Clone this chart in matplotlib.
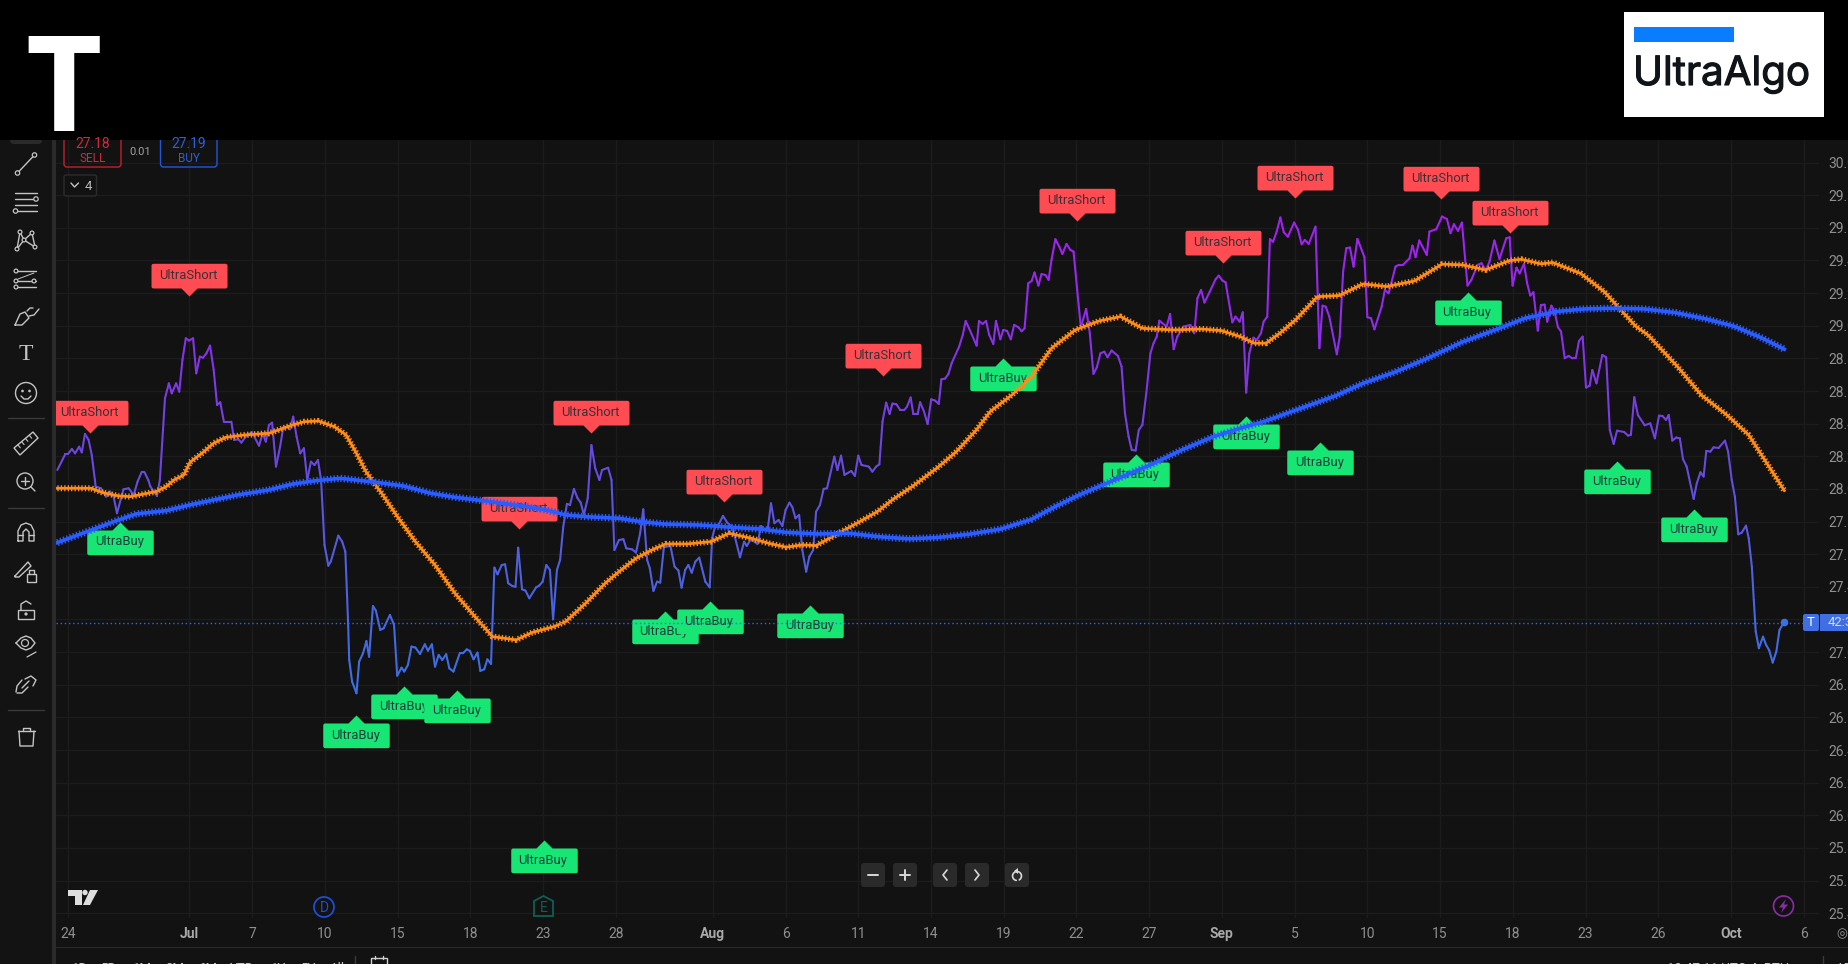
import numpy as np
import matplotlib
matplotlib.use('Agg')
import matplotlib.pyplot as plt
import matplotlib.patheffects as pe
from matplotlib.collections import LineCollection
from matplotlib.colors import LinearSegmentedColormap, Normalize
from matplotlib.patches import Circle, FancyBboxPatch, Polygon, Rectangle
from matplotlib.path import Path

plt.rcParams['font.family'] = ['Roboto', 'DejaVu Sans']

# time axis, x is counted in trading sessions from 24 Jun
tick_pos = [0, 5, 7.6, 10.6, 13.6, 16.6, 19.6, 22.6, 26.6, 29.6, 32.6, 35.6, 38.6, 41.6, 44.6,
            47.6, 50.6, 53.6, 56.6, 59.6, 62.6, 65.6, 68.6, 71.6]
tick_labels = ['24', 'Jul', '7', '10', '15', '18', '23', '28', 'Aug', '6', '11', '14', '19', '22', '27',
               'Sep', '5', '10', '15', '18', '23', '26', 'Oct', '6']
month_labels = ['Jul', 'Aug', 'Sep', 'Oct']
price_ticks = [25.4, 25.6, 25.8, 26.0, 26.2, 26.4, 26.6, 26.8, 27.0, 27.2, 27.4, 27.6, 27.8,
               28.0, 28.2, 28.4, 28.6, 28.8, 29.0, 29.2, 29.4, 29.6, 29.8, 30.0]
last_price = 27.18

price_x = [
    -0.44, -0.11, 0.00, 0.16, 0.29, 0.46, 0.57, 0.70, 0.85, 0.98, 1.11, 1.14, 1.36, 1.57, 1.73, 1.88, 2.02, 2.29,
    2.50, 2.71, 2.87, 3.04, 3.15, 3.31, 3.40, 3.67, 3.79, 4.00, 4.16, 4.28, 4.46, 4.59, 4.72, 4.86, 4.99, 5.16,
    5.29, 5.44, 5.57, 5.71, 5.86, 6.01, 6.15, 6.28, 6.43, 6.74, 6.85, 7.03, 7.15, 7.39, 7.59, 7.88, 8.03, 8.16,
    8.29, 8.42, 8.58, 8.75, 8.88, 9.03, 9.16, 9.29, 9.43, 9.58, 9.73, 9.87, 10.02, 10.17, 10.31, 10.44, 10.58,
    10.74, 10.84, 11.15, 11.31, 11.44, 11.55, 11.60, 11.72, 11.90, 12.01, 12.17, 12.31, 12.42, 12.58, 12.70,
    12.88, 13.02, 13.28, 13.45, 13.58, 13.76, 13.87, 14.02, 14.17, 14.33, 14.52, 14.72, 14.85, 15.01, 15.14,
    15.29, 15.44, 15.60, 15.73, 15.90, 16.16, 16.29, 16.45, 16.58, 16.73, 16.89, 17.01, 17.17, 17.30, 17.45,
    17.59, 17.72, 17.89, 18.03, 18.16, 18.33, 18.46, 18.57, 18.73, 18.87, 19.03, 19.31, 19.44, 19.58, 19.73,
    19.88, 20.01, 20.17, 20.30, 20.43, 20.58, 20.71, 20.87, 21.02, 21.15, 21.28, 21.44, 21.59, 21.75, 21.92,
    22.03, 22.28, 22.42, 22.54, 22.73, 22.91, 23.03, 23.27, 23.43, 23.60, 23.73, 23.89, 24.00, 24.15, 24.30,
    24.43, 24.58, 24.85, 25.02, 25.18, 25.31, 25.46, 25.59, 25.73, 25.88, 26.04, 26.29, 26.47, 26.57, 26.71,
    26.83, 27.02, 27.19, 27.41, 27.72, 27.89, 28.00, 28.17, 28.44, 28.59, 28.74, 28.87, 29.00, 29.14, 29.31,
    29.47, 29.60, 29.76, 29.88, 30.01, 30.16, 30.29, 30.45, 30.58, 30.74, 30.86, 31.02, 31.17, 31.31, 31.61,
    31.74, 31.89, 32.03, 32.31, 32.46, 32.60, 32.73, 33.03, 33.18, 33.34, 33.47, 33.60, 33.75, 33.89, 34.01,
    34.17, 34.33, 34.50, 34.61, 34.76, 34.87, 35.05, 35.15, 35.31, 35.46, 35.61, 35.77, 35.92, 36.03, 36.18,
    36.32, 36.45, 36.76, 36.91, 37.03, 37.17, 37.48, 37.58, 37.73, 37.87, 38.00, 38.17, 38.28, 38.46, 38.58,
    38.74, 38.89, 39.03, 39.20, 39.34, 39.46, 39.61, 39.75, 39.87, 40.03, 40.16, 40.32, 40.45, 40.57, 40.73,
    40.89, 41.02, 41.19, 41.35, 41.48, 41.63, 41.78, 42.00, 42.15, 42.30, 42.44, 42.59, 42.75, 42.88, 43.05,
    43.31, 43.46, 43.60, 43.75, 43.88, 44.04, 44.17, 44.32, 44.48, 44.65, 44.78, 44.91, 45.02, 45.32, 45.46,
    45.61, 45.76, 46.02, 46.30, 46.46, 46.59, 46.74, 46.88, 47.10, 47.34, 47.47, 47.62, 47.75, 48.03, 48.16,
    48.33, 48.46, 48.60, 48.73, 48.90, 49.04, 49.21, 49.32, 49.47, 49.58, 49.71, 49.86, 50.01, 50.15, 50.32,
    50.58, 50.74, 50.89, 51.02, 51.18, 51.46, 51.62, 51.75, 51.88, 52.03, 52.34, 52.46, 52.60, 52.73, 52.88,
    53.03, 53.19, 53.48, 53.60, 53.75, 53.89, 54.19, 54.32, 54.48, 54.76, 54.89, 55.07, 55.34, 55.46, 55.59,
    55.74, 56.05, 56.16, 56.44, 56.68, 56.88, 57.03, 57.17, 57.34, 57.50, 57.73, 57.89, 58.15, 58.31, 58.48,
    58.64, 58.84, 59.05, 59.33, 59.47, 59.59, 59.75, 59.88, 60.06, 60.19, 60.32, 60.45, 60.63, 60.76, 60.91,
    61.02, 61.19, 61.32, 61.46, 61.59, 61.74, 61.90, 62.05, 62.20, 62.33, 62.48, 62.62, 62.77, 62.88, 63.05,
    63.29, 63.45, 63.60, 63.76, 63.90, 64.19, 64.35, 64.47, 64.61, 64.76, 65.04, 65.27, 65.46, 65.63, 65.77,
    65.92, 66.03, 66.18, 66.34, 66.49, 66.62, 66.77, 67.06, 67.19, 67.34, 67.47, 67.58, 67.75, 67.88, 68.09,
    68.35, 68.48, 68.63, 68.76, 68.90, 69.04, 69.22, 69.33, 69.46, 69.54, 69.62, 69.75, 69.92, 70.05, 70.18,
    70.32, 70.47, 70.60, 70.80]
price_y = [
    28.116, 28.214, 28.214, 28.245, 28.218, 28.259, 28.224, 28.337, 28.300, 28.208, 28.055, 28.014, 28.004,
    27.953, 27.984, 27.953, 27.851, 27.998, 28.004, 27.963, 28.045, 28.104, 28.104, 28.055, 28.014, 27.957,
    28.055, 28.555, 28.647, 28.586, 28.647, 28.596, 28.790, 28.923, 28.909, 28.923, 28.708, 28.811, 28.804,
    28.831, 28.878, 28.729, 28.514, 28.531, 28.412, 28.412, 28.300, 28.304, 28.284, 28.331, 28.347, 28.265,
    28.341, 28.290, 28.392, 28.406, 28.137, 28.259, 28.378, 28.382, 28.365, 28.443, 28.320, 28.218, 28.249,
    28.055, 28.167, 28.147, 28.177, 28.055, 27.657, 27.530, 27.555, 27.714, 27.677, 27.616, 27.197, 26.952,
    26.819, 26.748, 26.942, 26.993, 27.068, 26.972, 27.283, 27.254, 27.136, 27.146, 27.228, 27.167, 26.856,
    26.905, 26.881, 26.921, 27.034, 27.028, 26.989, 27.048, 27.009, 27.048, 26.911, 26.983, 26.952, 26.987,
    26.901, 26.881, 26.993, 26.993, 27.017, 27.007, 26.956, 26.997, 26.885, 26.895, 26.956, 26.928, 27.518,
    27.477, 27.534, 27.538, 27.422, 27.405, 27.401, 27.640, 27.385, 27.377, 27.330, 27.397, 27.408, 27.432,
    27.534, 27.504, 27.201, 27.504, 27.565, 27.769, 27.908, 27.902, 28.000, 27.943, 27.916, 27.841, 27.943,
    28.269, 28.126, 28.055, 28.116, 28.130, 28.055, 27.626, 27.687, 27.692, 27.636, 27.630, 27.610, 27.728,
    27.875, 27.565, 27.514, 27.375, 27.432, 27.426, 27.643, 27.651, 27.524, 27.500, 27.395, 27.504, 27.534,
    27.487, 27.555, 27.579, 27.432, 27.397, 27.698, 27.779, 27.779, 27.835, 27.794, 27.765, 27.581, 27.677,
    27.651, 27.692, 27.663, 27.773, 27.753, 27.759, 27.912, 27.790, 27.810, 27.773, 27.871, 27.916, 27.888,
    27.820, 27.841, 27.626, 27.493, 27.585, 27.626, 27.861, 27.902, 28.000, 28.004, 28.198, 28.116, 28.204,
    28.086, 28.110, 28.080, 28.204, 28.147, 28.137, 28.106, 28.137, 28.151, 28.413, 28.529, 28.460, 28.523,
    28.519, 28.484, 28.484, 28.504, 28.560, 28.460, 28.460, 28.531, 28.474, 28.398, 28.549, 28.541, 28.521,
    28.672, 28.676, 28.705, 28.770, 28.872, 28.944, 29.029, 28.984, 28.878, 29.029, 29.011, 29.029, 28.944,
    28.888, 29.029, 28.917, 28.974, 28.968, 28.917, 29.005, 28.991, 28.966, 28.984, 29.260, 29.274, 29.326,
    29.246, 29.317, 29.311, 29.281, 29.403, 29.530, 29.485, 29.440, 29.501, 29.464, 29.454, 29.219, 28.991,
    29.103, 28.954, 28.705, 28.745, 28.831, 28.841, 28.807, 28.848, 28.815, 28.750, 28.464, 28.321, 28.239,
    28.235, 28.361, 28.392, 28.586, 28.831, 28.893, 28.933, 29.031, 28.995, 29.072, 28.856, 28.933, 28.995,
    29.005, 28.954, 29.168, 29.219, 29.142, 29.209, 29.285, 29.307, 29.277, 29.266, 29.021, 29.056, 29.025,
    29.082, 28.590, 28.831, 28.927, 28.913, 28.954, 29.025, 29.056, 29.530, 29.515, 29.577, 29.663, 29.573,
    29.546, 29.632, 29.587, 29.499, 29.526, 29.501, 29.607, 28.862, 29.123, 29.117, 29.056, 28.825, 28.933,
    29.332, 29.475, 29.479, 29.362, 29.532, 29.420, 29.052, 29.046, 28.978, 29.117, 29.219, 29.199, 29.362,
    29.373, 29.373, 29.413, 29.491, 29.420, 29.522, 29.434, 29.577, 29.591, 29.669, 29.654, 29.567, 29.622,
    29.581, 29.632, 29.246, 29.281, 29.373, 29.383, 29.338, 29.393, 29.522, 29.409, 29.536, 29.542, 29.246,
    29.356, 29.321, 29.379, 29.260, 29.185, 29.205, 28.970, 29.127, 29.129, 29.025, 29.123, 29.091, 28.991,
    28.964, 28.801, 28.815, 28.801, 28.803, 28.907, 28.933, 28.621, 28.633, 28.729, 28.647, 28.821, 28.807,
    28.361, 28.276, 28.357, 28.349, 28.327, 28.331, 28.562, 28.453, 28.390, 28.402, 28.310, 28.449, 28.447,
    28.423, 28.453, 28.296, 28.315, 28.310, 28.182, 28.137, 27.939, 28.035, 28.102, 28.076, 28.233, 28.229,
    28.255, 28.251, 28.296, 28.229, 28.055, 27.953, 27.722, 27.732, 27.775, 27.698, 27.524, 27.320, 27.126,
    27.024, 27.095, 27.044, 27.010, 26.936, 27.003, 27.136, 27.187]

orange_x = [
    -0.44, 0.95, 1.44, 2.09, 2.58, 3.64, 4.05, 4.37, 4.78, 5.03, 5.52, 6.01, 6.50, 7.31, 8.29, 9.27, 9.76, 10.33,
    10.98, 11.47, 11.88, 12.29, 12.62, 12.94, 13.59, 14.33, 15.14, 15.96, 16.78, 17.51, 18.49, 19.14, 20.04,
    20.53, 21.35, 22.16, 22.73, 23.43, 24.09, 24.66, 25.55, 26.53, 27.27, 28.17, 28.90, 29.63, 30.29, 30.86,
    31.59, 32.41, 33.39, 34.04, 34.86, 35.84, 36.65, 37.47, 38.04, 38.94, 39.75, 40.57, 41.55, 42.53, 43.42,
    44.32, 45.63, 46.77, 47.58, 48.36, 48.93, 49.42, 49.99, 50.64, 51.54, 52.44, 53.42, 54.40, 55.54, 56.68,
    57.50, 58.48, 59.46, 59.95, 60.76, 61.25, 62.39, 63.37, 64.68, 65.17, 66.39, 67.37, 68.43, 69.33, 70.80]
orange_y = [
    28.004, 28.004, 27.977, 27.957, 27.953, 27.984, 28.014, 28.055, 28.085, 28.163, 28.218, 28.280, 28.316,
    28.331, 28.341, 28.392, 28.412, 28.416, 28.382, 28.331, 28.224, 28.106, 28.038, 27.973, 27.830, 27.677,
    27.534, 27.361, 27.218, 27.095, 27.075, 27.120, 27.156, 27.187, 27.299, 27.422, 27.493, 27.575, 27.626,
    27.663, 27.663, 27.677, 27.728, 27.698, 27.667, 27.643, 27.657, 27.653, 27.712, 27.779, 27.861, 27.937,
    28.018, 28.127, 28.229, 28.361, 28.474, 28.576, 28.688, 28.862, 28.974, 29.029, 29.056, 28.984, 28.974,
    28.980, 28.970, 28.933, 28.893, 28.893, 28.954, 29.036, 29.178, 29.185, 29.256, 29.240, 29.274, 29.377,
    29.373, 29.342, 29.399, 29.407, 29.379, 29.387, 29.321, 29.209, 28.995, 28.944, 28.750, 28.576, 28.453,
    28.331, 27.990]

blue_x = [
    -0.44, 0.78, 2.09, 2.82, 4.05, 5.03, 6.99, 8.29, 9.27, 10.25, 11.23, 12.70, 13.84, 14.98, 15.96, 17.10, 18.73,
    19.71, 20.53, 21.35, 22.73, 23.60, 24.58, 26.04, 27.35, 28.49, 29.63, 30.94, 32.25, 33.39, 34.69, 35.84,
    37.14, 38.45, 39.75, 40.73, 41.71, 42.85, 44.65, 45.95, 47.26, 48.36, 49.34, 50.48, 52.28, 53.42, 54.72,
    56.03, 57.50, 58.97, 60.11, 61.41, 62.56, 63.70, 65.01, 66.31, 67.62, 68.76, 69.90, 70.80]
blue_y = [
    27.671, 27.738, 27.810, 27.847, 27.867, 27.902, 27.963, 27.994, 28.030, 28.051, 28.065, 28.041, 28.018,
    27.973, 27.949, 27.928, 27.896, 27.871, 27.841, 27.830, 27.820, 27.800, 27.785, 27.779, 27.765, 27.755,
    27.734, 27.724, 27.728, 27.708, 27.694, 27.702, 27.722, 27.753, 27.814, 27.892, 27.963, 28.035, 28.147,
    28.239, 28.321, 28.372, 28.413, 28.474, 28.570, 28.647, 28.715, 28.797, 28.899, 28.980, 29.046, 29.087,
    29.103, 29.107, 29.103, 29.080, 29.040, 28.995, 28.923, 28.856]

short_x = [0.90, 5.01, 18.59, 21.59, 27.06, 33.62, 41.63, 47.63, 50.61, 56.65, 59.49]
short_y = [28.345, 29.184, 27.757, 28.345, 27.922, 28.694, 29.644, 29.387, 29.785, 29.779, 29.571]
buy_x = [2.16, 11.90, 13.87, 16.04, 19.62, 24.61, 26.47, 30.60, 38.59, 44.04, 48.60, 51.64, 57.74, 63.90, 67.08]
buy_y = [27.800, 26.615, 26.791, 26.766, 25.849, 27.253, 27.314, 27.289, 28.801, 28.212, 28.447, 28.286,
         29.205, 28.169, 27.875]

BG = '#121212'
GRID = '#1c1c1c'
W, H = 1848, 964
DPI = 100


def label_marker(width, height, tip, up):
    # box with a small pointer, tip of the pointer sits on the origin
    s = 1 if up else -1
    hw = width / 2
    r = 2.0
    y0, y1 = s * tip, s * (tip + height)
    verts = [(0, 0), (tip, y0), (hw - r, y0), (hw, y0), (hw, y0 + s * r), (hw, y1 - s * r), (hw, y1),
             (hw - r, y1), (-hw + r, y1), (-hw, y1), (-hw, y1 - s * r), (-hw, y0 + s * r), (-hw, y0),
             (-hw + r, y0), (-tip, y0), (0, 0)]
    codes = [Path.MOVETO, Path.LINETO, Path.LINETO, Path.CURVE3, Path.CURVE3, Path.LINETO, Path.CURVE3,
             Path.CURVE3, Path.LINETO, Path.CURVE3, Path.CURVE3, Path.LINETO, Path.CURVE3, Path.CURVE3,
             Path.LINETO, Path.CLOSEPOLY]
    path = Path(verts, codes)
    return path, 2 * np.abs(path.vertices).max() * 72 / DPI


fig = plt.figure(figsize=(W / DPI, H / DPI), dpi=DPI, facecolor=BG)

# chart pane sits between x 56..1819 and y 140..918
ax = fig.add_axes([56 / W, 1 - 918 / H, (1819 - 56) / W, (918 - 140) / H], facecolor=BG)
ax.set_xlim(-0.495, 72.23)
ax.set_ylim(25.371, 30.138)
for sp in ax.spines.values():
    sp.set_visible(False)
ax.yaxis.tick_right()
ax.set_yticks(price_ticks, [f'{v:.2f}' for v in price_ticks])
ax.set_xticks(tick_pos, tick_labels)
ax.tick_params(axis='y', length=0, pad=7, labelsize=10, labelcolor='#8f8f8f')
ax.tick_params(axis='x', length=0, pad=6.8, labelsize=10, labelcolor='#8f8f8f')
for lab in ax.get_xticklabels():
    if lab.get_text() in month_labels:
        lab.set_fontweight('bold')
        lab.set_color('#a8a8a8')
ax.grid(True, color=GRID, lw=1)
ax.set_axisbelow(True)

# signal labels, each later one covers the one before
short_path, short_ms = label_marker(76, 24.7, 8, True)
buy_path, buy_ms = label_marker(66.5, 24.7, 8, False)
z = 2.0
signals = sorted([(x, y, 'UltraShort') for x, y in zip(short_x, short_y)] +
                 [(x, y, 'UltraBuy') for x, y in zip(buy_x, buy_y)])
for x, y, name in signals:
    z += 0.01
    if name == 'UltraShort':
        ax.plot(x, y, marker=short_path, ms=short_ms, mew=0, color='#ff4b52', ls='none', zorder=z)
        off, tc = 14.7, '#3a3138'
    else:
        ax.plot(x, y, marker=buy_path, ms=buy_ms, mew=0, color='#17e674', ls='none', zorder=z)
        off, tc = -14.7, '#1f3d3a'
    ax.annotate(name, (x, y), xytext=(-0.5, off), textcoords='offset points', ha='center', va='center',
                fontsize=9.4, color=tc, zorder=z + 0.001, clip_on=True)

# price line, colour follows the height like the gradient plot on the original
pts = np.column_stack([price_x, price_y])
cmap = LinearSegmentedColormap.from_list('grad', ['#3a70e4', '#4f60e0', '#6a48e0', '#8a30e8', '#a321f0'])
norm = Normalize(26.8, 29.6)
mid = (np.array(price_y[:-1]) + np.array(price_y[1:])) / 2
lc = LineCollection(np.stack([pts[:-1], pts[1:]], axis=1), colors=cmap(norm(mid)), linewidths=1.5,
                    capstyle='round', zorder=5)
ax.add_collection(lc)

# the two averages are cross style plots: a solid core with short teeth across it
ax.plot(orange_x, orange_y, color='#ff8c1a', lw=2.0, zorder=6)
ax.plot(orange_x, orange_y, color='#ff8c1a', lw=4.4, ls=(0, (0.22, 0.341)), dash_capstyle='butt', zorder=6)
ax.plot(blue_x, blue_y, color='#2a5cff', lw=2.6, zorder=7)
ax.plot(blue_x, blue_y, color='#2a5cff', lw=5.2, ls=(0, (0.19, 0.285)), dash_capstyle='butt', zorder=7)

ax.axhline(last_price, color='#2f62ff', lw=1, ls=(0, (1, 2)), zorder=8)
ax.plot(price_x[-1], price_y[-1], 'o', color='#3a70e4', ms=5.5, mew=0, zorder=9)

# everything around the chart, drawn on a pixel overlay
ui = fig.add_axes([0, 0, 1, 1], facecolor='none', zorder=10)
ui.set_xlim(0, W)
ui.set_ylim(H, 0)
ui.axis('off')


def box(x0, y0, x1, y1, fc='none', ec='none', lw=1, r=2):
    ui.add_patch(FancyBboxPatch((x0 + r, y0 + r), x1 - x0 - 2 * r, y1 - y0 - 2 * r, boxstyle=f'round,pad={r},rounding_size={r}',
                                fc=fc, ec=ec, lw=lw, mutation_aspect=1))


def seg(pts, color='#c4c4c4', lw=1):
    xs, ys = zip(*pts)
    ui.plot(xs, ys, color=color, lw=lw, solid_capstyle='round')


def dot(x, y, r=2.2, color='#c4c4c4', fc=BG, lw=0.9):
    ui.add_patch(Circle((x, y), r, fc=fc, ec=color, lw=lw, zorder=4))


# toolbar
ui.add_patch(Rectangle((0, 0), 52, H, fc='#131313', ec='none'))
ui.add_patch(Rectangle((52, 140), 4, H - 140, fc='#2a2a2a', ec='none'))
box(10, 130, 42, 144, fc='#2a2a2a', r=4)
seg([(17.5, 173), (34.5, 155)])
dot(17.5, 173)
dot(34.5, 155)
for y0 in [193, 199, 205, 211]:
    seg([(15, y0), (37, y0)])
dot(36, 199)
dot(15.5, 211)
seg([(20, 232), (24, 240), (17, 249)])
seg([(32, 233), (24, 240), (35, 247)])
seg([(20, 232), (17, 249)])
seg([(32, 233), (35, 247)])
for px, py in [(20, 232), (32, 233), (24, 240), (17, 249), (35, 247)]:
    dot(px, py, 1.9)
seg([(17, 271), (36, 271)])
seg([(17, 287), (36, 287)])
seg([(17, 281), (36, 281)])
seg([(18, 279), (34, 273)], lw=0.7)
for px, py in [(16, 271), (16, 281), (16, 287), (34, 281)]:
    dot(px, py, 1.9)
seg([(15, 325), (22, 325), (29, 318), (25, 312), (20, 314), (15, 325)])
seg([(29, 316), (34, 315), (39, 309)])
seg([(27, 311), (30, 308), (33, 308)])
ui.text(26, 355, 'T', color='#c4c4c4', fontsize=17, family='Liberation Serif', ha='center', va='center')
dot(26, 393, 10.5, fc='none', lw=1)
dot(22.5, 391, 0.7, fc='#c4c4c4')
dot(29.5, 391, 0.7, fc='#c4c4c4')
seg([(21, 396), (24, 399), (28, 399), (31, 396)])
seg([(8, 418), (44, 418)], color='#3a3a3a')
ui.add_patch(Polygon([(14, 448), (33, 432), (38, 438), (20, 455)], closed=True, fc='none', ec='#c4c4c4', lw=1))
for t in [0.2, 0.4, 0.6, 0.8]:
    seg([(14 + 19 * t, 448 - 16 * t), (16.5 + 19 * t, 451 - 16 * t)], lw=0.8)
dot(25, 481, 8, fc='none', lw=1)
seg([(31, 487), (35, 491)])
seg([(21, 481), (29, 481)])
seg([(25, 477), (25, 485)])
seg([(8, 508), (44, 508)], color='#3a3a3a')
seg([(18, 541), (18, 531), (21, 525), (26, 523), (31, 525), (34, 531), (34, 541), (29, 541), (29, 532), (26, 529),
     (23, 532), (23, 541), (18, 541)])
seg([(18, 535), (23, 535)])
seg([(29, 535), (34, 535)])
seg([(15, 576), (28, 562), (31, 566), (19, 577), (15, 577), (15, 576)])
ui.add_patch(Rectangle((27, 574), 9, 8, fc='none', ec='#c4c4c4', lw=1))
seg([(29, 574), (29, 570), (34, 570), (34, 574)])
ui.add_patch(Rectangle((18, 610), 16, 9, fc='none', ec='#c4c4c4', lw=1))
seg([(21, 610), (21, 604), (26, 601), (31, 604)])
dot(26, 614, 1, fc='#c4c4c4')
seg([(16, 643), (21, 638), (26, 636), (31, 638), (35, 643), (31, 648), (26, 650), (21, 648), (16, 643)])
dot(25, 643, 3.5, fc='none')
seg([(27, 657), (36, 652)], lw=0.9)
seg([(17, 693), (22, 693), (28, 687)])
seg([(25, 679), (31, 676), (36, 680), (33, 686)])
seg([(16, 692), (17, 686), (22, 680)])
seg([(22, 688), (29, 681)])
seg([(8, 710), (44, 710)], color='#3a3a3a')
seg([(18, 731), (35, 731)])
seg([(23, 731), (23, 728), (30, 728), (30, 731)])
seg([(19, 731), (20, 746), (33, 746), (34, 731)])

# chart watermark and event badges
ui.add_patch(Polygon([(68, 890), (82, 890), (82, 905), (75, 905), (75, 896), (68, 896)], fc='#dedede', ec='none'))
ui.add_patch(Circle((85, 892.5), 2.7, fc='#dedede', ec='none'))
ui.add_patch(Polygon([(90, 890), (98, 890), (90, 905), (83, 905)], fc='#dedede', ec='none'))
ui.add_patch(Circle((324, 907), 10, fc=BG, ec='#1c4fd4', lw=1.3))
ui.text(324, 907.5, 'D', color='#1c4fd4', fontsize=10, ha='center', va='center')
ui.add_patch(Polygon([(534, 916), (534, 901), (543.5, 896), (553, 901), (553, 916)], fc=BG, ec='#0e5f56', lw=1.3))
ui.text(543.5, 907.5, 'E', color='#0e5f56', fontsize=10, ha='center', va='center')
ui.add_patch(Circle((1783.5, 906), 10, fc=BG, ec='#8e2aa8', lw=1.2))
ui.add_patch(Polygon([(1786, 899), (1779, 907.5), (1783, 907.5), (1781, 913), (1788, 904.5), (1784, 904.5)],
                     fc='#8e2aa8', ec='none'))

# zoom buttons
for x0, x1 in [(861, 885), (893, 917), (933, 957), (965, 989), (1005, 1029)]:
    box(x0, 863, x1, 887, fc='#2a2a2a', r=3)
seg([(868, 875), (878, 875)], color='#d8d8d8', lw=1.4)
seg([(900, 875), (910, 875)], color='#d8d8d8', lw=1.4)
seg([(905, 870), (905, 880)], color='#d8d8d8', lw=1.4)
seg([(947, 870), (943, 875), (947, 880)], color='#d8d8d8', lw=1.2)
seg([(975, 870), (979, 875), (975, 880)], color='#d8d8d8', lw=1.2)
theta = np.radians(np.arange(-60, 261, 20))
seg(list(zip(1017 + 4.5 * np.cos(theta), 876 - 4.5 * np.sin(theta))), color='#d8d8d8', lw=1.2)
ui.add_patch(Polygon([(1018, 868), (1018, 874), (1014, 871)], fc='#d8d8d8', ec='none'))

# bid/ask box under the black band
box(64, 130, 121, 167, ec='#c2202f', lw=1, r=3)
box(160.5, 130, 217, 167, ec='#2456d8', lw=1, r=3)
ui.text(92.5, 144, '27.18', color='#d02a38', fontsize=10, ha='center', va='center')
ui.text(92.5, 158, 'SELL', color='#d02a38', fontsize=8.5, ha='center', va='center')
ui.text(188.5, 144, '27.19', color='#2a5fe0', fontsize=10, ha='center', va='center')
ui.text(188.5, 158, 'BUY', color='#2a5fe0', fontsize=8.5, ha='center', va='center')
ui.text(140, 152, '0.01', color='#a0a0a0', fontsize=8, ha='center', va='center')
box(64, 175, 96.5, 196, fc=BG, ec='#2c2c2c', lw=1, r=2)
seg([(71, 183), (74.5, 187), (78.5, 183)], color='#c4c4c4', lw=1)
ui.text(88, 186.5, '4', color='#b8b8b8', fontsize=9.5, ha='center', va='center')

# black band and logos
ui.add_patch(Rectangle((0, 0), W, 140, fc='#000000', ec='none'))
ui.text(64, 131, 'T', color='white', fontsize=95, family='Open Sans', fontweight='bold', ha='center',
        va='baseline')
ui.add_patch(Rectangle((1624, 12), 200, 105, fc='white', ec='none'))
ui.add_patch(Rectangle((1634, 27), 100, 15, fc='#0a7cff', ec='none'))
logo = ui.text(1633, 85, 'UltraAlgo', color='#101418', fontsize=29, family='Inter', ha='left', va='baseline')
logo.set_path_effects([pe.withStroke(linewidth=0.8, foreground='#101418')])

# price tag on the right axis
box(1803, 614, 1819, 631, fc='#3f6fe0', r=2)
ui.add_patch(Rectangle((1820, 614), 28, 17, fc='#3f6fe0', ec='none'))
ui.text(1811, 623, 'T', color='white', fontsize=9.5, ha='center', va='center')
ui.text(1828, 623, '42:37', color='#cfdaf5', fontsize=9.5, ha='left', va='center')
ui.text(1836, 934, '◎', color='#9a9a9a', fontsize=9, ha='left', va='center', family='DejaVu Sans', clip_on=True)

# bottom strip, mostly cut off by the edge of the screenshot
ui.add_patch(Rectangle((56, 947), W - 56, 1, fc='#2c2c2c', ec='none'))
for xpos, name in zip([72, 101, 133, 165, 198, 230, 271, 301, 330],
                      ['1D', '5D', '1M', '3M', '6M', 'YTD', '1Y', '5Y', 'All']):
    ui.text(xpos, 968, name, color='#c8c8c8', fontsize=9.5, ha='left', va='center', clip_on=True)
seg([(355, 956), (355, 964)], color='#3a3a3a')
ui.add_patch(Rectangle((371, 958), 16, 10, fc='none', ec='#d0d0d0', lw=1))
seg([(375, 956), (375, 959)], color='#d0d0d0')
seg([(383, 956), (383, 959)], color='#d0d0d0')
ui.text(1667, 968, '10:47:11 UTC-4  RTH', color='#c8c8c8', fontsize=9.5, ha='left', va='center', clip_on=True)
seg([(1823, 956), (1823, 964)], color='#3a3a3a')
ui.text(1836, 968, 'ADJ', color='#c8c8c8', fontsize=9.5, ha='left', va='center', clip_on=True)

fig.savefig('out.png', dpi=DPI, facecolor=BG)
